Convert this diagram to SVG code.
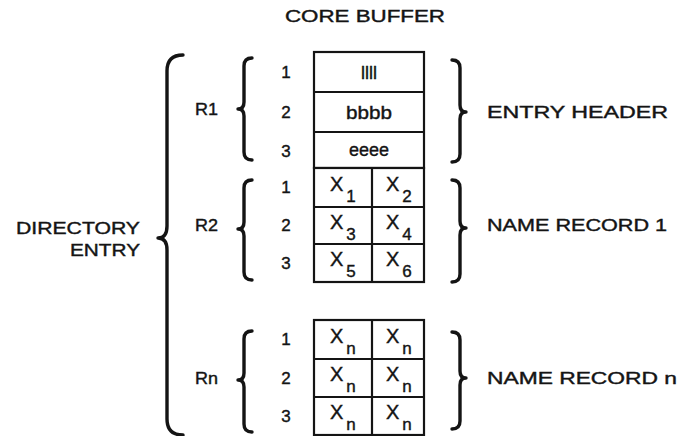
<svg xmlns="http://www.w3.org/2000/svg" width="681" height="436" viewBox="0 0 681 436">
  <style>
    text { font-family: "Liberation Sans", Arial, sans-serif; fill: #141414; stroke: #141414; stroke-width: 0.4px; }
    .lbl { font-size: 17px; }
    .num { font-size: 17px; text-anchor: middle; }
    .cell { font-size: 18px; text-anchor: middle; }
    .x { font-size: 20px; }
    .sub { font-size: 17px; }
    .box { fill: #fff; stroke: #141414; stroke-width: 2.2; }
    .div { stroke: #141414; stroke-width: 2.2; fill: none; }
    .brace { fill: none; stroke: #141414; stroke-width: 3.4; stroke-linecap: round; stroke-linejoin: round; }
  </style>

  <rect width="681" height="436" fill="#fff"/>

  <text id="title" class="lbl" x="285" y="22" textLength="160" lengthAdjust="spacingAndGlyphs">CORE BUFFER</text>

  <!-- directory entry label and outer brace -->
  <g id="directory-entry">
    <text class="lbl" x="16" y="234" textLength="124" lengthAdjust="spacingAndGlyphs">DIRECTORY</text>
    <text class="lbl" x="70" y="256" textLength="70" lengthAdjust="spacingAndGlyphs">ENTRY</text>
  </g>

  <g id="braces">
    <!-- outer brace -->
    <path class="brace" d="M183,55 Q167,55 167,71 L167,226 Q167,238 158,238 Q167,238 167,250 L167,419 Q167,435 183,435"/>
    <!-- record braces (left) -->
    <path class="brace" d="M252,58 Q244,58 244,66 L244,102 Q244,109 238,109 Q244,109 244,116 L244,152 Q244,160 252,160"/>
    <path class="brace" d="M252,180 Q244,180 244,188 L244,222 Q244,229 238,229 Q244,229 244,236 L244,272 Q244,280 252,280"/>
    <path class="brace" d="M252,331 Q244,331 244,339 L244,373 Q244,380 238,380 Q244,380 244,387 L244,424 Q244,432 252,432"/>
    <!-- group braces (right) -->
    <path class="brace" d="M452,60 Q460,60 460,68 L460,105 Q460,112 466,112 Q460,112 460,119 L460,154 Q460,162 452,162"/>
    <path class="brace" d="M452,180 Q460,180 460,188 L460,221 Q460,228 466,228 Q460,228 460,235 L460,274 Q460,282 452,282"/>
    <path class="brace" d="M452,332 Q460,332 460,340 L460,371 Q460,378 466,378 Q460,378 460,385 L460,421 Q460,429 452,429"/>
  </g>

  <!-- record R1: entry header -->
  <g id="r1">
    <text class="lbl" x="195" y="115" textLength="23" lengthAdjust="spacingAndGlyphs">R1</text>
    <text class="num" x="286" y="78">1</text>
    <text class="num" x="286" y="118">2</text>
    <text class="num" x="286" y="157">3</text>
    <rect class="box" x="314" y="52" width="110" height="116"/>
    <line class="div" x1="314" y1="92" x2="424" y2="92"/>
    <line class="div" x1="314" y1="132" x2="424" y2="132"/>
    <text class="cell" x="369" y="79" textLength="16" lengthAdjust="spacingAndGlyphs">llll</text>
    <text class="cell" x="369" y="119" textLength="46" lengthAdjust="spacingAndGlyphs">bbbb</text>
    <text class="cell" x="369" y="156" textLength="40" lengthAdjust="spacingAndGlyphs">eeee</text>
  </g>

  <!-- record R2: name record 1 -->
  <g id="r2">
    <text class="lbl" x="195" y="231" textLength="23" lengthAdjust="spacingAndGlyphs">R2</text>
    <text class="num" x="286" y="193">1</text>
    <text class="num" x="286" y="231">2</text>
    <text class="num" x="286" y="269">3</text>
    <rect class="box" x="314" y="168" width="110" height="114"/>
    <line class="div" x1="314" y1="207" x2="424" y2="207"/>
    <line class="div" x1="314" y1="244" x2="424" y2="244"/>
    <line class="div" x1="372" y1="168" x2="372" y2="282"/>
    <text class="x" x="330" y="191">X<tspan class="sub" dx="3" dy="11">1</tspan></text>
    <text class="x" x="386" y="191">X<tspan class="sub" dx="3" dy="11">2</tspan></text>
    <text class="x" x="330" y="229">X<tspan class="sub" dx="3" dy="11">3</tspan></text>
    <text class="x" x="386" y="229">X<tspan class="sub" dx="3" dy="11">4</tspan></text>
    <text class="x" x="330" y="266">X<tspan class="sub" dx="3" dy="11">5</tspan></text>
    <text class="x" x="386" y="266">X<tspan class="sub" dx="3" dy="11">6</tspan></text>
  </g>

  <!-- record Rn: name record n -->
  <g id="rn">
    <text class="lbl" x="195" y="384" textLength="23" lengthAdjust="spacingAndGlyphs">Rn</text>
    <text class="num" x="286" y="345">1</text>
    <text class="num" x="286" y="384">2</text>
    <text class="num" x="286" y="422">3</text>
    <rect class="box" x="314" y="320" width="110" height="115"/>
    <line class="div" x1="314" y1="359" x2="424" y2="359"/>
    <line class="div" x1="314" y1="397" x2="424" y2="397"/>
    <line class="div" x1="372" y1="320" x2="372" y2="435"/>
    <text class="x" x="330" y="343">X<tspan class="sub" dx="3" dy="11">n</tspan></text>
    <text class="x" x="386" y="343">X<tspan class="sub" dx="3" dy="11">n</tspan></text>
    <text class="x" x="330" y="381">X<tspan class="sub" dx="3" dy="11">n</tspan></text>
    <text class="x" x="386" y="381">X<tspan class="sub" dx="3" dy="11">n</tspan></text>
    <text class="x" x="330" y="419">X<tspan class="sub" dx="3" dy="11">n</tspan></text>
    <text class="x" x="386" y="419">X<tspan class="sub" dx="3" dy="11">n</tspan></text>
  </g>

  <!-- group labels -->
  <g id="labels">
    <text class="lbl" x="487" y="118" textLength="181" lengthAdjust="spacingAndGlyphs">ENTRY HEADER</text>
    <text class="lbl" x="487" y="231" textLength="180" lengthAdjust="spacingAndGlyphs">NAME RECORD 1</text>
    <text class="lbl" x="487" y="384" textLength="190" lengthAdjust="spacingAndGlyphs">NAME RECORD n</text>
  </g>
</svg>
